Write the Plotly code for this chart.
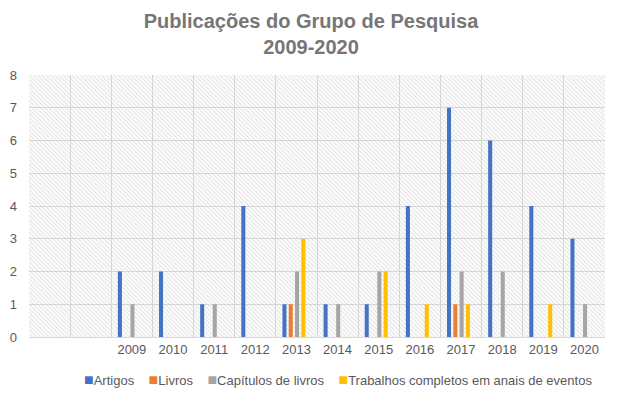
import plotly.graph_objects as go

# ---- data ----
categories = ["", "", "2009", "2010", "2011", "2012", "2013", "2014", "2015",
              "2016", "2017", "2018", "2019", "2020"]
artigos = [None, None, 2, 2, 1, 4, 1, 1, 1, 4, 7, 6, 4, 3]
livros = [None, None, 0, 0, 0, 0, 1, 0, 0, 0, 1, 0, 0, 0]
capitulos = [None, None, 1, 0, 1, 0, 2, 1, 2, 0, 2, 2, 0, 1]
trabalhos = [None, None, 0, 0, 0, 0, 3, 0, 2, 1, 1, 0, 1, 0]
series_names = ["Artigos", "Livros", "Capítulos de livros",
                "Trabalhos completos em anais de eventos"]
colors = ["#4472C4", "#ED7D31", "#A5A5A5", "#FFC000"]

pos = list(range(len(categories)))
xr = [-0.5, len(categories) - 0.5]
yr = [0, 8]

OFF = 8  # page body margin of the browser
W, H = 619 - OFF, 399 - OFF
ML, MT = 29 - OFF, 75 - OFF
PW, PH = 576, 262
MR, MB = W - ML - PW, H - MT - PH

bar_w = 0.098          # bar width in category units
bar_step = 0.153       # distance between neighbouring bars in a group
group_start = -0.34    # left edge of first bar relative to category centre

fig = go.Figure()

# hatched plot-area background (decoration) on the main axes
fig.add_trace(go.Scatter(
    x=[xr[0], xr[1], xr[1], xr[0], xr[0]], y=[yr[0], yr[0], yr[1], yr[1], yr[0]],
    fill="toself", mode="lines", line=dict(width=0), fillcolor="rgba(0,0,0,0)",
    fillpattern=dict(shape="\\", fgcolor="#C8C8C8", bgcolor="rgba(255,255,255,0)",
                     size=3, solidity=0.4),
    hoverinfo="skip", showlegend=False, xaxis="x", yaxis="y"))

for i, (name, vals, c) in enumerate(zip(series_names,
                                        [artigos, livros, capitulos, trabalhos], colors)):
    fig.add_trace(go.Bar(x=pos, y=vals, name=name,
                         width=bar_w, offset=group_start + i * bar_step,
                         marker=dict(color=c, line=dict(width=0)),
                         xaxis="x2", yaxis="y2", showlegend=False))

font_color = "#595959"
fig.update_layout(
    width=W, height=H,
    margin=dict(l=ML, r=MR, t=MT, b=MB, autoexpand=False),
    paper_bgcolor="white", plot_bgcolor="white",
    barmode="overlay",
    title=dict(text="<b>Publicações do Grupo de Pesquisa<br>2009-2020</b>",
               x=(311 - OFF) / W, xanchor="center", xref="container",
               yref="container", y=1 - (28 - OFF) / H, yanchor="middle",
               font=dict(family="Liberation Sans, Arial", size=20, color="#767676")),
    font=dict(family="Liberation Sans, Arial", size=13, color=font_color),
    xaxis=dict(range=xr, tickmode="linear", tick0=-0.5, dtick=1, showticklabels=False,
               showgrid=True, gridcolor="#D9D9D9", gridwidth=1, zeroline=False,
               showline=False, fixedrange=True),
    yaxis=dict(range=yr, dtick=1, showgrid=True, gridcolor="#D9D9D9", gridwidth=1,
               zeroline=False, showline=False, ticks="", ticklabelstandoff=11,
               tickfont=dict(size=13, color=font_color)),
    xaxis2=dict(range=xr, overlaying="x", tickmode="array", tickvals=pos,
                ticktext=categories, showgrid=False, zeroline=False,
                showline=True, linecolor="#D9D9D9", linewidth=1,
                tickfont=dict(size=13, color=font_color), ticks=""),
    yaxis2=dict(range=yr, overlaying="y", showgrid=False, showticklabels=False,
                zeroline=False),
    showlegend=False,
)

# legend drawn as a single text line with coloured squares
legend_text = "&nbsp;&nbsp;&nbsp;&nbsp;".join(
    f'<span style="color:{c};font-size:16px">■</span>{n}'
    for n, c in zip(series_names, colors))
fig.add_annotation(text=legend_text, xref="paper", yref="paper",
                   x=(338 - 29) / PW, y=-(380 - 75 - PH) / PH,
                   xanchor="center", yanchor="middle", showarrow=False,
                   font=dict(size=13, color=font_color))

# light chart border on the left edge
fig.add_shape(type="line", xref="paper", yref="paper",
              x0=-(29 - 1.5) / PW, x1=-(29 - 1.5) / PW, y0=-(399 - 75 - PH) / PH,
              y1=1 + 75 / PH, line=dict(color="#CFE0EE", width=2))

fig.write_html("out.html")
